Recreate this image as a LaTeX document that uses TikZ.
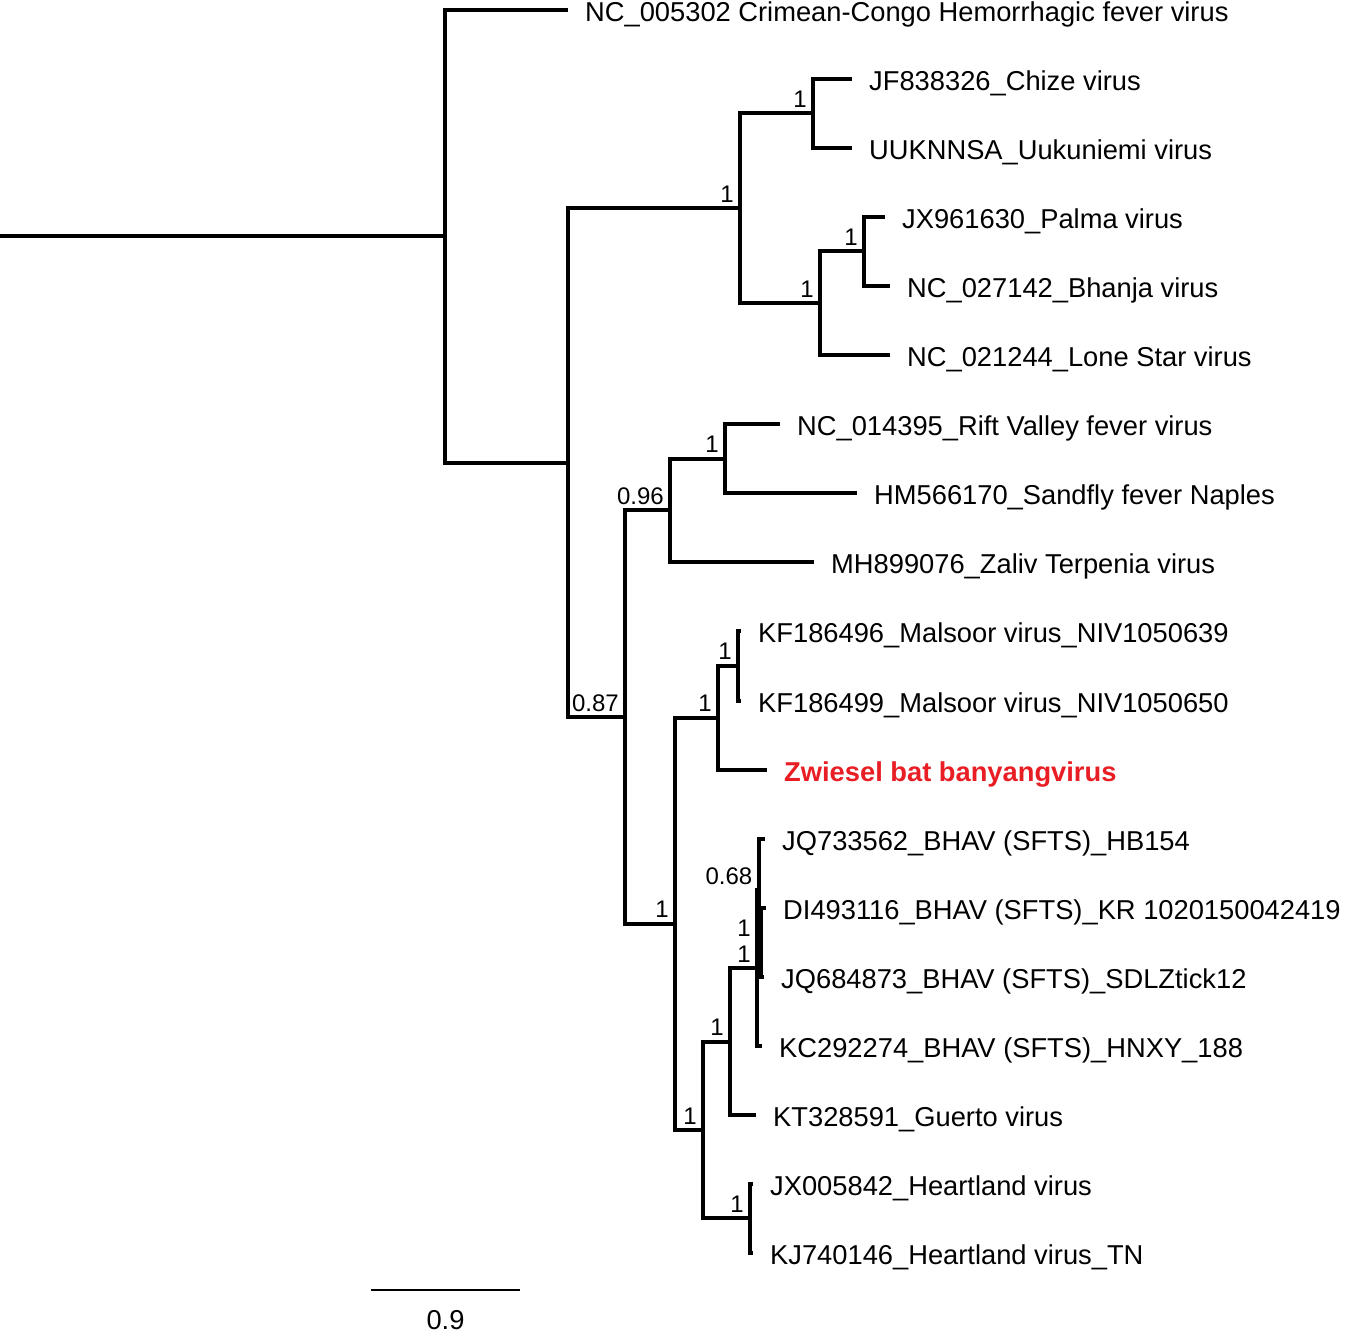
\documentclass[tikz,border=0pt]{standalone}
\usepackage{fontspec}
\setmainfont{Liberation Sans}
\definecolor{zred}{RGB}{232,30,36}
\tikzset{
  br/.style={line width=4pt, line join=miter},
  lab/.style={anchor=base west, inner sep=0pt, xshift=17pt, yshift=-11.5pt, font=\fontsize{27.3pt}{30pt}\selectfont},
  redlab/.style={lab, text=zred, font=\bfseries\fontsize{27.3pt}{30pt}\selectfont},
  bs/.style={anchor=base east, inner sep=0pt, xshift=-6pt, yshift=6pt, font=\fontsize{24pt}{26pt}\selectfont},
  scalebar/.style={line width=2.5pt},
}
\begin{document}
\begin{tikzpicture}[x=1pt,y=-1pt]
\useasboundingbox (0,0) rectangle (1345,1332);
% internal nodes
\coordinate (r0) at (0,236.4);
\coordinate (n1) at (445,236.4);
\coordinate (n2) at (568,462.7);
\coordinate (n3) at (740,208.4);
\coordinate (n4) at (813,113.5);
\coordinate (n5) at (820,303.3);
\coordinate (n6) at (864,251.5);
\coordinate (n7) at (625,717);
\coordinate (n8) at (670,510.3);
\coordinate (n9) at (725,458.5);
\coordinate (n10) at (675,923.8);
\coordinate (n11) at (718,717.6);
\coordinate (n12) at (738,665.8);
\coordinate (n13) at (703,1130);
\coordinate (n14) at (730,1041.5);
\coordinate (nA) at (757,968.1);
\coordinate (nB) at (758.5,890.4);
\coordinate (nC) at (761,942.2);
\coordinate (n15) at (750,1218.4);
% tips
\coordinate (tCC) at (568,10);
\coordinate (tCh) at (852,79);
\coordinate (tUu) at (852,148);
\coordinate (tPa) at (885,217);
\coordinate (tBh) at (890,286);
\coordinate (tLS) at (890,355);
\coordinate (tRV) at (780,424);
\coordinate (tSN) at (857,493);
\coordinate (tZT) at (814,562);
\coordinate (tM1) at (741,631);
\coordinate (tM2) at (741,700.5);
\coordinate (tZw) at (767,769.5);
\coordinate (tJQa) at (765,838.6);
\coordinate (tDI) at (766,907.6);
\coordinate (tJQb) at (764,976.7);
\coordinate (tKC) at (762,1045.8);
\coordinate (tGu) at (756,1114.8);
\coordinate (tJX) at (753,1183.9);
\coordinate (tKJ) at (753,1252.9);
% branches
\draw[br] (r0) -- (n1);
\draw[br] (n1) |- (tCC);
\draw[br] (n1) |- (n2);
\draw[br] (n2) |- (n3);
\draw[br] (n2) |- (n7);
\draw[br] (n3) |- (n4);
\draw[br] (n3) |- (n5);
\draw[br] (n4) |- (tCh);
\draw[br] (n4) |- (tUu);
\draw[br] (n5) |- (n6);
\draw[br] (n5) |- (tLS);
\draw[br] (n6) |- (tPa);
\draw[br] (n6) |- (tBh);
\draw[br] (n7) |- (n8);
\draw[br] (n7) |- (n10);
\draw[br] (n8) |- (n9);
\draw[br] (n8) |- (tZT);
\draw[br] (n9) |- (tRV);
\draw[br] (n9) |- (tSN);
\draw[br] (n10) |- (n11);
\draw[br] (n10) |- (n13);
\draw[br] (n11) |- (n12);
\draw[br] (n11) |- (tZw);
\draw[br] (n12) |- (tM1);
\draw[br] (n12) |- (tM2);
\draw[br] (n13) |- (n14);
\draw[br] (n13) |- (n15);
\draw[br] (n14) |- (nA);
\draw[br] (n14) |- (tGu);
\draw[br] (nA) |- (nB);
\draw[br] (nA) |- (tKC);
\draw[br] (nB) |- (tJQa);
\draw[br] (nB) |- (nC);
\draw[br] (nC) |- (tDI);
\draw[br] (nC) |- (tJQb);
\draw[br] (n15) |- (tJX);
\draw[br] (n15) |- (tKJ);
% support values
\node[bs] (b3) at (n3) {1};
\node[bs] (b4) at (n4) {1};
\node[bs] (b5) at (n5) {1};
\node[bs] (b6) at (n6) {1};
\node[bs] (b7) at (n7) {0.87};
\node[bs] (b8) at (n8) {0.96};
\node[bs] (b9) at (n9) {1};
\node[bs] (b10) at (n10) {1};
\node[bs] (b11) at (n11) {1};
\node[bs] (b12) at (n12) {1};
\node[bs] (b13) at (n13) {1};
\node[bs] (b14) at (n14) {1};
\node[bs] (bA) at (nA) {1};
\node[bs] (bB) at (nB) {0.68};
\node[bs, xshift=-4pt] (bC) at (nC) {1};
\node[bs] (b15) at (n15) {1};
% tip labels
\node[lab] (lCC) at (tCC) {NC\_005302 Crimean-Congo Hemorrhagic fever virus};
\node[lab] (lCh) at (tCh) {JF838326\_Chize virus};
\node[lab] (lUu) at (tUu) {UUKNNSA\_Uukuniemi virus};
\node[lab] (lPa) at (tPa) {JX961630\_Palma virus};
\node[lab] (lBh) at (tBh) {NC\_027142\_Bhanja virus};
\node[lab] (lLS) at (tLS) {NC\_021244\_Lone Star virus};
\node[lab] (lRV) at (tRV) {NC\_014395\_Rift Valley fever virus};
\node[lab] (lSN) at (tSN) {HM566170\_Sandfly fever Naples};
\node[lab] (lZT) at (tZT) {MH899076\_Zaliv Terpenia virus};
\node[lab] (lM1) at (tM1) {KF186496\_Malsoor virus\_NIV1050639};
\node[lab] (lM2) at (tM2) {KF186499\_Malsoor virus\_NIV1050650};
\node[redlab] (lZw) at (tZw) {Zwiesel bat banyangvirus};
\node[lab] (lJQa) at (tJQa) {JQ733562\_BHAV (SFTS)\_HB154};
\node[lab] (lDI) at (tDI) {DI493116\_BHAV (SFTS)\_KR 1020150042419};
\node[lab] (lJQb) at (tJQb) {JQ684873\_BHAV (SFTS)\_SDLZtick12};
\node[lab] (lKC) at (tKC) {KC292274\_BHAV (SFTS)\_HNXY\_188};
\node[lab] (lGu) at (tGu) {KT328591\_Guerto virus};
\node[lab] (lJX) at (tJX) {JX005842\_Heartland virus};
\node[lab] (lKJ) at (tKJ) {KJ740146\_Heartland virus\_TN};
% scale bar
\coordinate (s1) at (371,1290);
\coordinate (s2) at (520,1290);
\draw[scalebar] (s1) -- (s2);
\node[anchor=base, inner sep=0pt, font=\fontsize{27.3pt}{30pt}\selectfont] (sl) at (445.5,1329) {0.9};
\end{tikzpicture}
\end{document}
